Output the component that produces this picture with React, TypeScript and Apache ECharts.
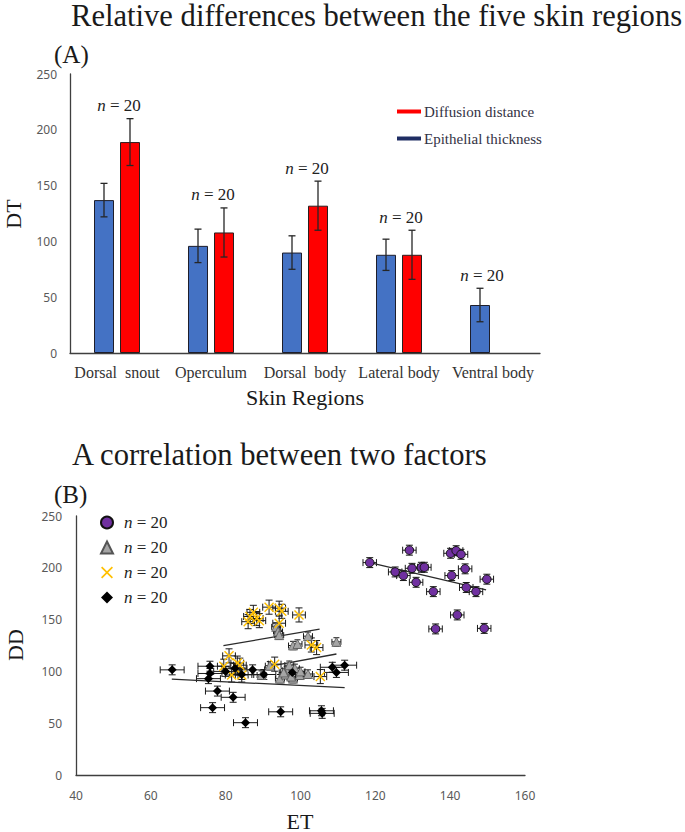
import React, { useEffect, useRef } from 'react';
import * as echarts from 'echarts';

// ---------- Panel A data ----------
const categories = ['Dorsal  snout', 'Operculum', 'Dorsal  body', 'Lateral body', 'Ventral body'];
const etMean = [137, 96, 90, 88, 43];
const etErr = [15, 15, 15, 14, 15];
const ddMean: (number | null)[] = [189, 108, 132, 88, null];
const ddErr: (number | null)[] = [21, 22, 22, 22, null];
const barTicks = [0, 50, 100, 150, 200, 250];

// ---------- Panel B data ----------
const purplePoints = [
  [118.5, 205], [129.1, 217], [140.1, 214], [141.6, 216.5], [142.9, 213],
  [125.3, 196], [127.5, 192.5], [129.8, 199.5], [132.3, 200.5], [133.1, 200.5],
  [130.9, 186], [135.5, 177], [140.4, 192.5], [144, 199], [149.8, 189],
  [144.3, 181], [146.9, 177], [141.9, 154.5], [136.1, 141], [149.1, 141.5],
];
const grayPoints = [
  [93.5, 143], [94, 138.5], [94.3, 135], [98, 125], [99.2, 126.5],
  [102, 134], [109.6, 128.5], [89.6, 96.5], [91.8, 105.5], [94.5, 93],
  [96.3, 101], [98.5, 103], [98, 93], [99.8, 96.5], [102, 97.5],
  [96, 97], [97, 106], [100, 100], [95.5, 99], [97.5, 95],
];
const yellowPoints = [
  [86.5, 153], [87.4, 157], [86, 148], [88.3, 151], [91.6, 162],
  [94.3, 161], [94.3, 146.5], [99.6, 154.5], [80.9, 115], [79.5, 105],
  [83.1, 108], [83.8, 106], [81.6, 96.5], [84.3, 96.5], [93.1, 107],
  [105.3, 95], [102.9, 125.5], [104.3, 123], [89, 149], [95, 158],
];
const blackPoints = [
  [65.7, 101.5], [75.8, 105], [75.8, 98], [75.4, 93], [77.8, 81],
  [82, 75], [76.5, 65], [85.3, 50.5], [94.7, 61], [105.8, 59.5],
  [105.6, 62], [82.5, 103], [87.2, 101.5], [90.2, 97], [97.8, 99],
  [108.5, 104], [109.6, 99], [111.8, 106], [84.3, 97], [80, 100],
];
// error sizes [ET, DD]
const purpleErr = [1.8, 4.8];
const grayErr = [1.2, 4];
const yellowErr = [1.7, 6.8];
const blackErr = [3.2, 4.8];
// trend lines (endpoints)
const purpleTrend = [[118.5, 205], [149.6, 178.6]];
const grayTrend = [[92, 105], [109.6, 116.8]];
const yellowTrend = [[79.4, 124.8], [105.1, 140.8]];
const blackTrend = [[65.6, 92.5], [111.8, 84.3]];
const xTicksB = [40, 60, 80, 100, 120, 140, 160];
const yTicksB = [0, 50, 100, 150, 200, 250];
const nLabel = 'n = 20';

const SERIF = "'Liberation Serif', 'DejaVu Serif', serif";
const SANS = "'Noto Sans', 'Liberation Sans', sans-serif";
const AXIS_COLOR = '#3f3f3f';
const X_SHAPE = 'path://M0,1L1,0L5,4L9,0L10,1L6,5L10,9L9,10L5,6L1,10L0,9L4,5Z';

function nRich(size: number) {
  return {
    i: { fontStyle: 'italic', fontFamily: SERIF, fontSize: size, fill: '#222', color: '#222' },
    r: { fontFamily: SERIF, fontSize: size, fill: '#222', color: '#222' },
  };
}
function nText() {
  const parts = nLabel.split(' ');
  return '{i|' + parts[0] + '}{r| ' + parts.slice(1).join(' ') + '}';
}

function errRenderB(err: number[], cap: number) {
  return (params: any, api: any) => {
    const x = api.value(0);
    const y = api.value(1);
    const c = api.coord([x, y]);
    const l = api.coord([x - err[0], y]);
    const r = api.coord([x + err[0], y]);
    const t = api.coord([x, y + err[1]]);
    const b = api.coord([x, y - err[1]]);
    const style = { stroke: '#1a1a1a', lineWidth: 1 };
    return {
      type: 'group',
      children: [
        { type: 'line', shape: { x1: l[0], y1: c[1], x2: r[0], y2: c[1] }, style },
        { type: 'line', shape: { x1: l[0], y1: c[1] - cap, x2: l[0], y2: c[1] + cap }, style },
        { type: 'line', shape: { x1: r[0], y1: c[1] - cap, x2: r[0], y2: c[1] + cap }, style },
        { type: 'line', shape: { x1: c[0], y1: t[1], x2: c[0], y2: b[1] }, style },
        { type: 'line', shape: { x1: c[0] - cap, y1: t[1], x2: c[0] + cap, y2: t[1] }, style },
        { type: 'line', shape: { x1: c[0] - cap, y1: b[1], x2: c[0] + cap, y2: b[1] }, style },
      ],
    };
  };
}

export default function App() {
  const ref = useRef<HTMLDivElement>(null);
  useEffect(() => {
    const chart = echarts.init(ref.current!, null, { renderer: 'svg' });

    const errA: number[][] = [];
    categories.forEach((_, i) => {
      errA.push([i, etMean[i], etErr[i], 0]);
      if (ddMean[i] != null) errA.push([i, ddMean[i] as number, ddErr[i] as number, 1]);
    });
    const nData = categories.map((_, i) => {
      const a = etMean[i] + etErr[i];
      const b = ddMean[i] != null ? (ddMean[i] as number) + (ddErr[i] as number) : 0;
      return [i, Math.max(a, b), ddMean[i] == null ? 1 : 0];
    });

    const scatterCommon = { type: 'scatter', xAxisIndex: 1, yAxisIndex: 1, z: 4 };
    const errCommon = { type: 'custom', xAxisIndex: 1, yAxisIndex: 1, z: 2, silent: true };
    const lineCommon = {
      type: 'line', xAxisIndex: 1, yAxisIndex: 1, z: 3, symbol: 'none', silent: true,
      lineStyle: { color: '#2b2b2b', width: 1.3 },
    };

    const option: any = {
      animation: false,
      backgroundColor: '#ffffff',
      graphic: [
        { type: 'text', x: 71, y: 16, style: { text: 'Relative differences between the five skin regions', fontFamily: SERIF, fontSize: 30.6, fill: '#1a1a1a', align: 'left', verticalAlign: 'middle' } },
        { type: 'text', x: 54, y: 54, style: { text: '(A)', fontFamily: SERIF, fontSize: 25, fill: '#1a1a1a', align: 'left', verticalAlign: 'middle' } },
        { type: 'text', x: 13, y: 214, rotation: Math.PI / 2, style: { text: 'DT', fontFamily: SERIF, fontSize: 22, fill: '#1a1a1a', align: 'center', verticalAlign: 'middle' } },
        { type: 'text', x: 305, y: 397, style: { text: 'Skin Regions', fontFamily: SERIF, fontSize: 22, fill: '#1a1a1a', align: 'center', verticalAlign: 'middle' } },
        { type: 'text', x: 72, y: 455, style: { text: 'A correlation between two factors', fontFamily: SERIF, fontSize: 30.6, fill: '#1a1a1a', align: 'left', verticalAlign: 'middle' } },
        { type: 'text', x: 54, y: 494, style: { text: '(B)', fontFamily: SERIF, fontSize: 25, fill: '#1a1a1a', align: 'left', verticalAlign: 'middle' } },
        { type: 'text', x: 15, y: 645, rotation: Math.PI / 2, style: { text: 'DD', fontFamily: SERIF, fontSize: 22, fill: '#1a1a1a', align: 'center', verticalAlign: 'middle' } },
        { type: 'text', x: 300, y: 821, style: { text: 'ET', fontFamily: SERIF, fontSize: 22, fill: '#1a1a1a', align: 'center', verticalAlign: 'middle' } },
      ],
      legend: [
        {
          orient: 'vertical', left: 397, top: 104, padding: 0, itemGap: 12, itemWidth: 24, itemHeight: 4, icon: 'rect',
          data: [
            { name: 'Diffusion distance', itemStyle: { color: '#ff0000', borderWidth: 0 } },
            { name: 'Epithelial thickness', itemStyle: { color: '#1f2d63', borderWidth: 0 } },
          ],
          textStyle: { fontFamily: SERIF, fontSize: 15, color: '#333344', padding: [0, 0, 0, -2] },
        },
        {
          orient: 'vertical', left: 100, top: 514, padding: 0, itemGap: 8, itemWidth: 12, itemHeight: 12,
          data: ['purple', 'gray', 'yellow', 'black'],
          formatter: () => nText(),
          textStyle: { fontFamily: SERIF, fontSize: 17, color: '#222', padding: [0, 0, 0, 6], rich: nRich(17) },
        },
      ],
      grid: [
        { left: 70, top: 74, width: 470, height: 279 },
        { left: 76, top: 516, width: 449, height: 259 },
      ],
      xAxis: [
        {
          gridIndex: 0, type: 'category', data: categories,
          axisLine: { lineStyle: { color: AXIS_COLOR, width: 1.3 } }, axisTick: { show: false },
          axisLabel: { margin: 11, interval: 0, fontFamily: SERIF, fontSize: 16, color: '#333' },
          splitLine: { show: false },
        },
        {
          gridIndex: 1, type: 'value', min: xTicksB[0], max: xTicksB[xTicksB.length - 1], interval: xTicksB[1] - xTicksB[0],
          axisLine: { show: true, onZero: false, lineStyle: { color: AXIS_COLOR, width: 1.3 } }, axisTick: { show: false },
          axisLabel: { margin: 14, fontFamily: SANS, fontSize: 12, color: '#595959' },
          splitLine: { show: false },
        },
      ],
      yAxis: [
        {
          gridIndex: 0, type: 'value', min: barTicks[0], max: barTicks[barTicks.length - 1], interval: barTicks[1] - barTicks[0],
          axisLine: { show: true, lineStyle: { color: AXIS_COLOR, width: 1.3 } }, axisTick: { show: false },
          axisLabel: { margin: 13, fontFamily: SANS, fontSize: 12, color: '#595959' },
          splitLine: { show: false },
        },
        {
          gridIndex: 1, type: 'value', min: yTicksB[0], max: yTicksB[yTicksB.length - 1], interval: yTicksB[1] - yTicksB[0],
          axisLine: { show: true, onZero: false, lineStyle: { color: AXIS_COLOR, width: 1.3 } }, axisTick: { show: false },
          axisLabel: { margin: 14, fontFamily: SANS, fontSize: 12, color: '#595959' },
          splitLine: { show: false },
        },
      ],
      series: [
        {
          name: 'Epithelial thickness', type: 'bar', xAxisIndex: 0, yAxisIndex: 0, data: etMean,
          barWidth: 20, barGap: '30%',
          itemStyle: { color: '#4472c4', borderColor: '#1e1e2a', borderWidth: 1 },
        },
        {
          name: 'Diffusion distance', type: 'bar', xAxisIndex: 0, yAxisIndex: 0, data: ddMean,
          barWidth: 20, barGap: '30%',
          itemStyle: { color: '#ff0000', borderColor: '#2a1e1e', borderWidth: 1 },
        },
        {
          type: 'custom', xAxisIndex: 0, yAxisIndex: 0, z: 5, silent: true, data: errA,
          renderItem: (params: any, api: any) => {
            const i = api.value(0);
            const v = api.value(1);
            const e = api.value(2);
            const off = api.value(3) === 1 ? 13 : -13;
            const top = api.coord([i, v + e]);
            const bot = api.coord([i, v - e]);
            const x = top[0] + off;
            const style = { stroke: '#262626', lineWidth: 1.3 };
            return {
              type: 'group',
              children: [
                { type: 'line', shape: { x1: x, y1: top[1], x2: x, y2: bot[1] }, style },
                { type: 'line', shape: { x1: x - 3.5, y1: top[1], x2: x + 3.5, y2: top[1] }, style },
                { type: 'line', shape: { x1: x - 3.5, y1: bot[1], x2: x + 3.5, y2: bot[1] }, style },
              ],
            };
          },
        },
        {
          type: 'custom', xAxisIndex: 0, yAxisIndex: 0, z: 5, silent: true, data: nData,
          renderItem: (params: any, api: any) => {
            const i = api.value(0);
            const v = api.value(1);
            const single = api.value(2) === 1;
            const p = api.coord([i, v]);
            return {
              type: 'text',
              x: p[0] + (single ? -11 : 2),
              y: p[1] - 13,
              style: {
                text: nText(), rich: nRich(17), fontFamily: SERIF, fontSize: 17, fill: '#222',
                align: 'center', verticalAlign: 'middle',
              },
            };
          },
        },
        // Panel B error bars
        { ...errCommon, data: purplePoints, renderItem: errRenderB(purpleErr, 3.5) },
        { ...errCommon, data: grayPoints, renderItem: errRenderB(grayErr, 3) },
        { ...errCommon, data: yellowPoints, renderItem: errRenderB(yellowErr, 3.5) },
        { ...errCommon, data: blackPoints, renderItem: errRenderB(blackErr, 3.5) },
        // trend lines
        { ...lineCommon, data: purpleTrend },
        { ...lineCommon, data: grayTrend },
        { ...lineCommon, data: yellowTrend },
        { ...lineCommon, data: blackTrend },
        // markers
        { ...scatterCommon, name: 'purple', data: purplePoints, symbol: 'circle', symbolSize: 8.5, itemStyle: { color: '#7030a0', borderColor: '#111', borderWidth: 1, opacity: 1 } },
        { ...scatterCommon, name: 'gray', data: grayPoints, symbol: 'triangle', symbolSize: 9, itemStyle: { color: '#a5a5a5', borderColor: '#555', borderWidth: 0.8, opacity: 1 } },
        { ...scatterCommon, name: 'yellow', data: yellowPoints, symbol: X_SHAPE, symbolSize: 10, itemStyle: { color: '#ffc000', opacity: 1 } },
        { ...scatterCommon, name: 'black', data: blackPoints, symbol: 'diamond', symbolSize: 9, itemStyle: { color: '#000', opacity: 1 } },
      ],
    };

    chart.setOption(option);
    return () => chart.dispose();
  }, []);

  return (
    <div
      ref={ref}
      style={{ position: 'absolute', left: 0, top: 0, width: 685, height: 832, background: '#fff' }}
    />
  );
}
